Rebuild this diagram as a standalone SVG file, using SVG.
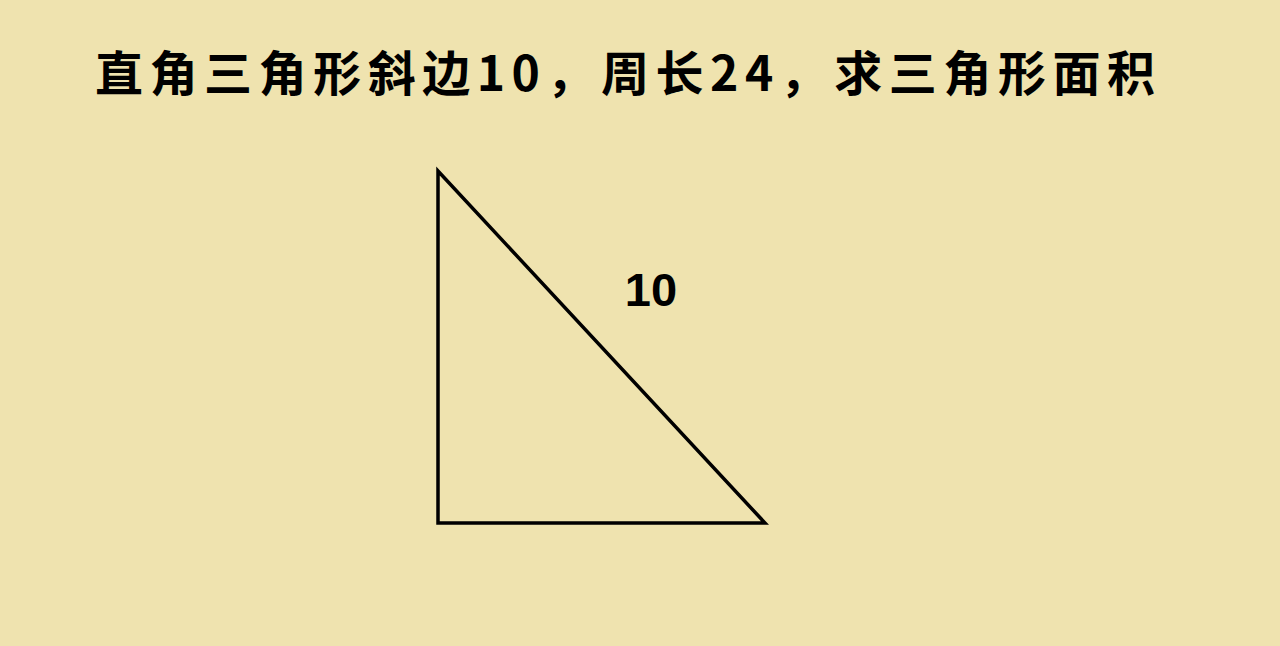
<svg xmlns="http://www.w3.org/2000/svg" width="1280" height="646" viewBox="0 0 1280 646">
  <style>
    .title { font-family: "Noto Sans CJK SC", "Liberation Sans", sans-serif; font-weight: bold; font-size: 48px; fill: #000; }
    .label { font-family: "Liberation Sans", Arial, sans-serif; font-weight: bold; font-size: 47px; fill: #000; }
    .edge { fill: none; stroke: #000; stroke-width: 3.5; stroke-linejoin: miter; }
  </style>
  <rect x="0" y="0" width="1280" height="646" fill="#EFE3AF"/>
  <g id="title">
    <text class="title" x="95" y="91" textLength="1060" lengthAdjust="spacing">直角三角形斜边10，周长24，求三角形面积</text>
  </g>
  <g id="connectors">
    <path id="triangle" class="edge" d="M438,171 L438,523 L765,523 Z"/>
  </g>
  <g id="hypotenuse-label">
    <text class="label" x="651" y="306" text-anchor="middle">10</text>
  </g>
</svg>
